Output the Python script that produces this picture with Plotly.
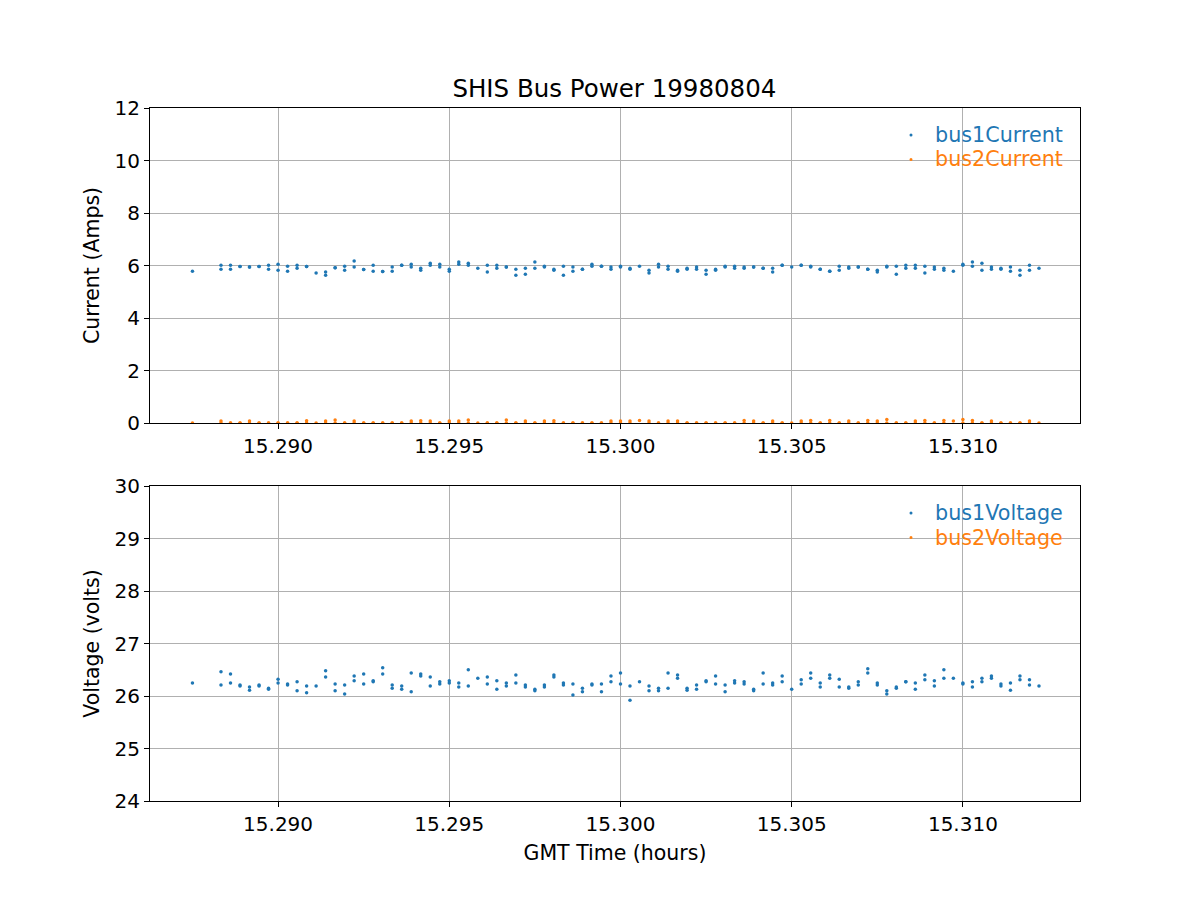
import plotly.graph_objects as go
from plotly.subplots import make_subplots

# Time of each sample column, seconds of day (GMT)
col_time_s = [55035, 55038, 55039, 55040, 55041, 55042, 55043, 55044, 55045, 55046,
              55047, 55048, 55049, 55050, 55051, 55052, 55053, 55054, 55055, 55056,
              55057, 55058, 55059, 55060, 55061, 55062, 55063, 55064, 55065, 55066,
              55067, 55068, 55069, 55070, 55071, 55072, 55073, 55074, 55075, 55076,
              55077, 55078, 55079, 55080, 55081, 55082, 55083, 55084, 55085, 55086,
              55087, 55088, 55089, 55090, 55091, 55092, 55093, 55094, 55095, 55096,
              55097, 55098, 55099, 55100, 55101, 55102, 55103, 55104, 55105, 55106,
              55107, 55108, 55109, 55110, 55111, 55112, 55113, 55114, 55115, 55116,
              55117, 55118, 55119, 55120, 55121, 55122, 55123, 55124]

# bus1 current (Amps): first and second sample in each column (None = single sample)
cur1_a = [5.78, 6.01, 6.01, 5.96, 5.94, 5.96, 6.01, 6.05, 5.97, 6.01,
          5.96, 5.71, 5.75, 5.91, 5.97, 6.17, 5.85, 6.01, 5.77, 5.94,
          6.01, 6.05, 5.90, 6.09, 6.05, 5.86, 6.13, 6.09, 5.90, 6.01,
          6.01, 5.94, 5.86, 5.90, 6.13, 5.97, 5.86, 5.97, 5.94, 5.86,
          6.05, 5.97, 5.94, 5.97, 5.90, 5.97, 5.82, 6.05, 5.97, 5.82,
          5.90, 5.94, 5.82, 5.86, 5.97, 5.97, 5.94, 5.94, 5.90, 5.90,
          6.01, 5.94, 6.01, 5.97, 5.86, 5.78, 5.97, 5.94, 5.94, 5.86,
          5.82, 5.97, 5.97, 6.01, 6.01, 5.97, 5.94, 5.90, 5.78, 6.05,
          6.13, 6.09, 5.94, 5.90, 5.94, 5.82, 6.01, 5.90]
cur1_b = [None, 5.86, 5.86, None, None, None, 5.86, 5.82, 5.78, 5.90,
          None, None, 5.63, None, 5.82, 5.94, None, 5.78, None, 5.78,
          None, 5.94, 5.82, 6.01, 5.94, 5.78, 6.05, 6.01, None, 5.75,
          5.90, None, 5.63, 5.67, 5.90, 5.94, 5.82, 5.63, 5.78, None,
          5.97, None, 5.86, 5.94, 5.86, None, 5.71, 5.94, 5.86, 5.78,
          5.86, 5.86, 5.67, 5.82, 5.94, 5.90, 5.90, None, None, 5.75,
          None, None, None, 5.94, None, None, 5.82, 5.90, None, None,
          5.75, 5.94, 5.67, 5.90, 5.90, 5.71, 5.86, 5.82, None, 6.01,
          5.97, 5.82, 5.86, 5.86, 5.78, 5.63, 5.82, None]

# bus2 current (Amps): first sample in each column; second sample reads 0
cur2_a = [0.00, 0.08, 0.00, 0.00, 0.08, 0.00, 0.00, 0.00, 0.00, 0.00,
          0.09, 0.00, 0.08, 0.11, 0.00, 0.08, 0.00, 0.00, 0.00, 0.00,
          0.00, 0.08, 0.09, 0.08, 0.00, 0.08, 0.08, 0.11, 0.00, 0.00,
          0.00, 0.11, 0.00, 0.08, 0.00, 0.08, 0.09, 0.00, 0.00, 0.00,
          0.00, 0.00, 0.08, 0.08, 0.08, 0.10, 0.08, 0.00, 0.08, 0.08,
          0.00, 0.00, 0.00, 0.00, 0.00, 0.00, 0.10, 0.08, 0.00, 0.08,
          0.00, 0.00, 0.08, 0.10, 0.00, 0.10, 0.00, 0.08, 0.00, 0.10,
          0.08, 0.13, 0.00, 0.00, 0.08, 0.10, 0.00, 0.10, 0.08, 0.13,
          0.10, 0.00, 0.08, 0.00, 0.00, 0.00, 0.08, 0.00]

# bus1 voltage (volts)
volt1_a = [26.25, 26.46, 26.42, 26.21, 26.17, 26.21, 26.15, 26.32, 26.23, 26.27,
           26.19, 26.19, 26.48, 26.23, 26.21, 26.38, 26.42, 26.29, 26.54, 26.21,
           26.19, 26.44, 26.42, 26.36, 26.27, 26.29, 26.25, 26.50, 26.34, 26.36,
           26.29, 26.25, 26.40, 26.21, 26.13, 26.21, 26.40, 26.25, 26.23, 26.15,
           26.23, 26.23, 26.38, 26.44, 26.19, 26.27, 26.19, 26.15, 26.44, 26.40,
           26.15, 26.21, 26.29, 26.38, 26.21, 26.29, 26.27, 26.13, 26.44, 26.25,
           26.38, 26.13, 26.31, 26.44, 26.25, 26.40, 26.32, 26.17, 26.27, 26.52,
           26.25, 26.10, 26.17, 26.27, 26.25, 26.40, 26.29, 26.50, 26.34, 26.25,
           26.27, 26.34, 26.38, 26.23, 26.25, 26.38, 26.31, 26.19]
volt1_b = [None, 26.21, 26.25, 26.19, 26.11, 26.19, 26.13, 26.25, 26.21, 26.10,
           26.06, None, 26.36, 26.10, 26.04, 26.29, 26.23, 26.27, 26.42, 26.15,
           26.13, 26.08, 26.38, 26.19, 26.23, 26.25, 26.17, 26.19, None, 26.23,
           26.13, 26.19, 26.25, 26.17, 26.10, 26.17, 26.36, 26.21, 26.02, 26.08,
           26.21, 26.08, 26.27, 26.23, 25.92, None, 26.10, 26.10, 26.15, 26.34,
           26.11, 26.13, 26.27, 26.23, 26.08, 26.25, 26.23, 26.10, 26.23, 26.21,
           26.27, None, 26.23, 26.34, 26.17, 26.34, 26.17, 26.15, 26.21, 26.44,
           26.21, 26.04, 26.15, None, 26.13, 26.31, 26.19, 26.34, None, 26.23,
           26.17, 26.27, 26.34, 26.19, 26.11, 26.31, 26.21, None]

# bus2 voltage (volts): reads 0 throughout (below the plotted range)
volt2_level = 0.0

# ---- expand columns into individual samples ----
t_hours, c1, c2, v1, v2 = [], [], [], [], []
for i, ts in enumerate(col_time_s):
    th = ts / 3600.0
    t_hours.append(th); c1.append(cur1_a[i]); c2.append(cur2_a[i])
    v1.append(volt1_a[i]); v2.append(volt2_level)
    if cur1_b[i] is not None or volt1_b[i] is not None:
        t_hours.append(th)
        c1.append(cur1_b[i] if cur1_b[i] is not None else cur1_a[i])
        c2.append(0.0)
        v1.append(volt1_b[i] if volt1_b[i] is not None else volt1_a[i])
        v2.append(volt2_level)

BLUE = "#1f77b4"
ORANGE = "#ff7f0e"
FONT = "DejaVu Sans"
FS = 20
W, H = 1200, 900

fig = make_subplots(rows=2, cols=1)

def add(x, y, name, color, row):
    fig.add_trace(go.Scatter(
        x=x, y=y, mode="markers", name=name, showlegend=False,
        marker=dict(color=color, size=3.5, line=dict(width=0)),
        cliponaxis=True), row=row, col=1)

add(t_hours, c1, "bus1Current", BLUE, 1)
add(t_hours, c2, "bus2Current", ORANGE, 1)
add(t_hours, v1, "bus1Voltage", BLUE, 2)
add(t_hours, v2, "bus2Voltage", ORANGE, 2)

x_range = [15.28626, 15.31342]
axis_common = dict(showline=True, mirror=True, linecolor="black", linewidth=1,
                   ticks="outside", ticklen=5, tickwidth=1, tickcolor="black",
                   showgrid=True, gridcolor="#b0b0b0", gridwidth=1, zeroline=False,
                   automargin=False,
                   tickfont=dict(family=FONT, size=FS, color="black"))

fig.update_xaxes(**axis_common, range=x_range, tickvals=[15.290, 15.295, 15.300, 15.305, 15.310],
                 tickformat=".3f", domain=[0.125, 0.9])
fig.update_yaxes(**axis_common)
fig.update_yaxes(range=[0, 12], dtick=2, domain=[0.53, 0.88], row=1, col=1,
                 title=dict(text="Current (Amps)", font=dict(family=FONT, size=20.5), standoff=9))
fig.update_yaxes(range=[24, 30], dtick=1, domain=[0.11, 0.46], row=2, col=1,
                 title=dict(text="Voltage (volts)", font=dict(family=FONT, size=20.5), standoff=9))
fig.update_xaxes(row=2, col=1, title=dict(text="GMT Time (hours)",
                 font=dict(family=FONT, size=20.5), standoff=10))

# legend drawn as coloured text with small dot markers (matplotlib style)
legend_rows = [("bus1Current", BLUE, 135), ("bus2Current", ORANGE, 159.5),
               ("bus1Voltage", BLUE, 513), ("bus2Voltage", ORANGE, 537.5)]
annotations, shapes = [], []
for label, color, ypx in legend_rows:
    yp = 1 - ypx / H
    annotations.append(dict(text=label, x=933 / W, y=yp, xref="paper", yref="paper",
                            xanchor="left", yanchor="middle", showarrow=False,
                            font=dict(family=FONT, size=20.7, color=color)))
    shapes.append(dict(type="circle", xref="paper", yref="paper",
                       xsizemode="pixel", ysizemode="pixel",
                       xanchor=911 / W, yanchor=yp, x0=-1.5, x1=1.5, y0=-1.5, y1=1.5,
                       fillcolor=color, line=dict(width=0)))

fig.update_layout(
    width=W, height=H,
    margin=dict(l=0, r=0, t=0, b=0),
    paper_bgcolor="white", plot_bgcolor="white",
    font=dict(family=FONT, size=FS, color="black"),
    title=dict(text="SHIS Bus Power 19980804", x=0.512, xanchor="center",
               y=1 - 88 / H, yanchor="middle", automargin=False,
               font=dict(family=FONT, size=24.5, color="black")),
    showlegend=False,
    annotations=annotations,
    shapes=shapes,
)

fig.write_html("out.html", config={"displayModeBar": False},
               post_script="document.body.style.margin='0';")
